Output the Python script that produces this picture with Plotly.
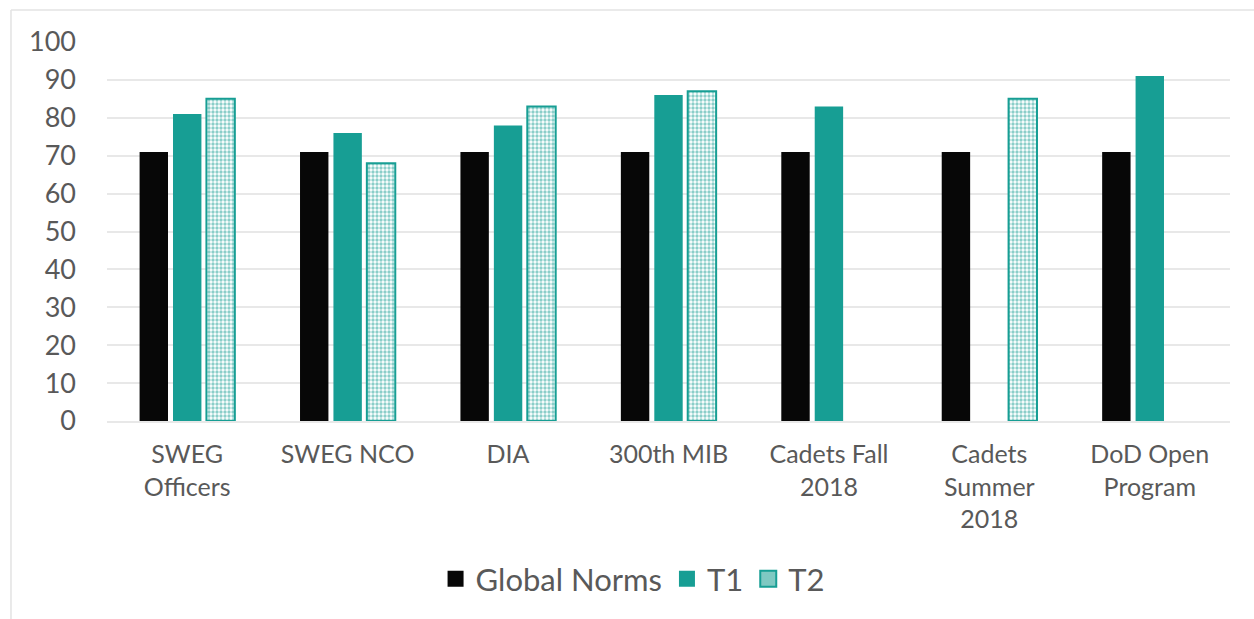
import plotly.graph_objects as go

categories = ["SWEG<br>Officers", "SWEG NCO", "DIA", "300th MIB",
              "Cadets Fall<br>2018", "Cadets<br>Summer<br>2018", "DoD Open<br>Program"]
global_norms = [71, 71, 71, 71, 71, 71, 71]
t1 = [81, 76, 78, 86, 83, None, 91]
t2 = [85, 68, 83, 87, None, 85, None]
y_ticks = [0, 10, 20, 30, 40, 50, 60, 70, 80, 90, 100]

TEAL = "#179e94"
BLACK = "#070707"
GRAY_TEXT = "#595959"
GRID = "#e8e8e8"
FONT = "Lato, sans-serif"

fig = go.Figure()
fig.add_trace(go.Bar(name="Global Norms", x=categories, y=global_norms, showlegend=False,
                     marker=dict(color=BLACK, line=dict(width=0))))
fig.add_trace(go.Bar(name="T1", x=categories, y=t1, showlegend=False,
                     marker=dict(color=TEAL, line=dict(width=0))))
fig.add_trace(go.Bar(name="T2", x=categories, y=t2, showlegend=False,
                     marker=dict(color="white",
                                 line=dict(color=TEAL, width=2),
                                 pattern=dict(shape=".", fgcolor=TEAL, bgcolor="white",
                                              size=4, solidity=0.55))))

# legend entries with larger square swatches
legend_items = [("Global Norms", dict(color=BLACK, line=dict(width=0))),
                ("T1", dict(color=TEAL, line=dict(width=0))),
                ("T2", dict(color="#7fc9c2", line=dict(color=TEAL, width=2)))]
for name, mk in legend_items:
    fig.add_trace(go.Scatter(x=[None], y=[None], mode="markers", name=name,
                             marker=dict(symbol="square", size=19, **mk)))

fig.update_layout(
    width=1254, height=619,
    margin=dict(l=107, r=24, t=42, b=198),
    paper_bgcolor="white", plot_bgcolor="white",
    barmode="group", bargap=0.375, bargroupgap=0.15,
    font=dict(family=FONT, color=GRAY_TEXT),
    showlegend=True,
    legend=dict(orientation="h", x=0.468, xanchor="center", y=-0.417, yanchor="middle",
                font=dict(size=31, color=GRAY_TEXT), itemwidth=30,
                traceorder="normal"),
    shapes=[
        dict(type="line", xref="paper", yref="paper", x0=-0.0855, x1=-0.0855,
             y0=1.0844, y1=-0.6, line=dict(color="#e3e3e3", width=1.5)),
        dict(type="line", xref="paper", yref="paper", x0=-0.0855, x1=1.05,
             y0=1.0844, y1=1.0844, line=dict(color="#e3e3e3", width=1.5)),
    ],
)
fig.update_yaxes(range=[0, 100], tickvals=y_ticks, showgrid=True, gridcolor=GRID, gridwidth=2,
                 zeroline=False, showline=False, ticks="", ticklabelstandoff=30,
                 tickfont=dict(size=27, color=GRAY_TEXT))
fig.update_xaxes(showline=True, linecolor=GRID, linewidth=2, ticks="",
                 tickfont=dict(size=25, color=GRAY_TEXT), ticklabelstandoff=10)

fig.write_html("out.html")
